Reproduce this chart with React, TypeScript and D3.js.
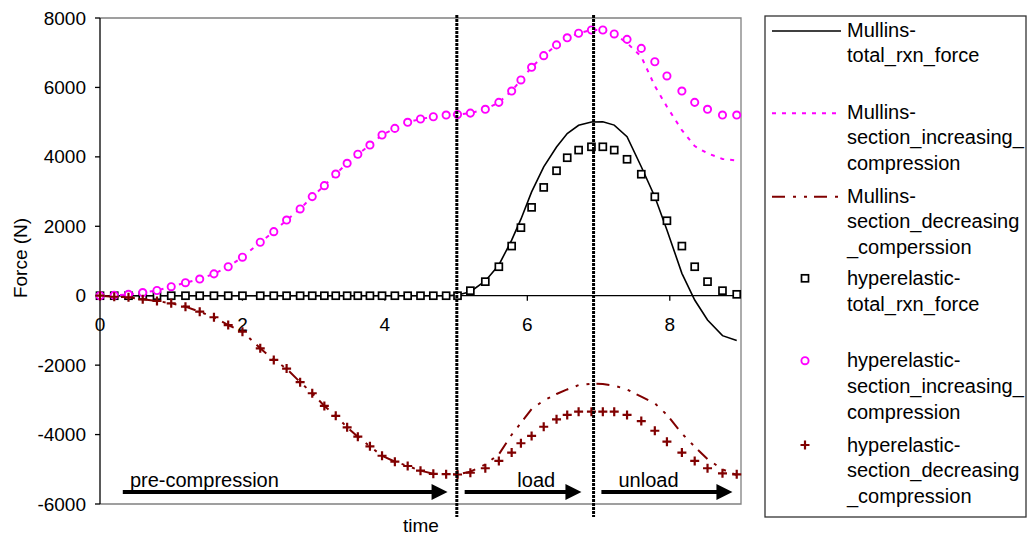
import React from 'react';
import * as d3 from 'd3';

// time steps (s) shared by every series
const time = [
  0, 0.2, 0.4, 0.6, 0.8, 1.0, 1.2, 1.4, 1.6, 1.8, 2.0, 2.25, 2.44, 2.62, 2.81, 2.98, 3.15, 3.31, 3.47, 3.62,
  3.79, 3.96, 4.14, 4.32, 4.5, 4.68, 4.86, 5.02, 5.2, 5.41, 5.6, 5.78, 5.91, 6.06, 6.23, 6.41, 6.56, 6.72,
  6.9, 7.06, 7.22, 7.4, 7.6, 7.79, 7.96, 8.17, 8.35, 8.53, 8.74, 8.94,
];

const mullinsTotal = [
  0, 0, 0, 0, 0, 0, 0, 0, 0, 0, 0, 0, 0, 0, 0, 0, 0, 0, 0, 0,
  0, 0, 0, 0, 0, 0, 0, 20, 115, 425, 885, 1600, 2205, 2990, 3710, 4285, 4670, 4910,
  5005, 5010, 4915, 4580, 3715, 2850, 1895, 645, -125, -700, -1150, -1290,
];

const mullinsInc = [
  0, 10, 40, 90, 150, 260, 375, 480, 630, 835, 1110, 1540, 1845, 2180, 2500, 2855, 3170, 3505, 3815, 4075,
  4340, 4630, 4820, 4995, 5090, 5155, 5205, 5220, 5260, 5370, 5570, 5895, 6215, 6580, 6915, 7225, 7430, 7560,
  7655, 7650, 7540, 7280, 6885, 6040, 5445, 4770, 4310, 4100, 3940, 3895,
];

const mullinsDec = [
  0, -30, -45, -105, -150, -220, -315, -460, -620, -845, -1035, -1515, -1850, -2100, -2490, -2810, -3175, -3460, -3790, -4060,
  -4340, -4610, -4780, -4905, -5040, -5130, -5140, -5150, -5070, -4860, -4570, -4005, -3665, -3265, -3020, -2830, -2700, -2575,
  -2535, -2545, -2590, -2700, -2910, -3100, -3430, -3970, -4350, -4705, -5005, -5165,
];

const hyperTotal = [
  0, 0, 0, 0, 0, 0, 0, 0, 0, 0, 0, 0, 0, 0, 0, 0, 0, 0, 0, 0,
  0, 0, 0, 0, 0, 0, 0, 0, 145, 405, 835, 1430, 1960, 2545, 3120, 3600, 3975, 4195,
  4290, 4290, 4195, 3930, 3500, 2850, 2160, 1430, 835, 405, 145, 40,
];

const hyperInc = [
  0, 10, 40, 90, 150, 260, 375, 480, 630, 835, 1110, 1540, 1845, 2180, 2500, 2855, 3170, 3505, 3815, 4075,
  4340, 4630, 4820, 4995, 5090, 5155, 5205, 5220, 5260, 5370, 5570, 5895, 6215, 6580, 6915, 7225, 7430, 7560,
  7655, 7655, 7540, 7385, 7125, 6740, 6330, 5895, 5570, 5370, 5205, 5205,
];

const hyperDec = [
  0, -30, -45, -105, -150, -220, -315, -460, -620, -845, -1035, -1515, -1850, -2100, -2490, -2810, -3175, -3460, -3790, -4060,
  -4340, -4610, -4780, -4905, -5040, -5130, -5140, -5150, -5100, -4970, -4760, -4520, -4250, -4040, -3775, -3560, -3435, -3340,
  -3340, -3340, -3340, -3435, -3610, -3890, -4205, -4520, -4760, -4970, -5115, -5145,
];

const xTicks = [0, 2, 4, 6, 8];
const yTicks = [-6000, -4000, -2000, 0, 2000, 4000, 6000, 8000];

// phase annotations (time units)
const phaseLabels = ['pre-compression', 'load', 'unload'];
const phaseLabelAt = [0.42, 5.86, 7.28];
const phaseArrowFrom = [0.32, 5.12, 7.04];
const phaseArrowTo = [4.88, 6.76, 8.88];
const phaseBounds = [5.01, 6.93];

const legendLabels = [
  ['Mullins-', 'total_rxn_force'],
  ['Mullins-', 'section_increasing_', 'compression'],
  ['Mullins-', 'section_decreasing', '_comperssion'],
  ['hyperelastic-', 'total_rxn_force'],
  ['hyperelastic-', 'section_increasing_', 'compression'],
  ['hyperelastic-', 'section_decreasing', '_compression'],
];

const FONT = '"Liberation Sans", Arial, sans-serif';
const MAGENTA = '#ff00ff';
const DARKRED = '#800000';

const W = 1028;
const H = 537;
const plot = { left: 100, right: 741, top: 18, bottom: 504 };

const Square = ({ x, y }: { x: number; y: number }) => (
  <rect x={x - 3.5} y={y - 3.5} width={7} height={7} fill="white" stroke="black" strokeWidth={1.7} />
);
const Circle = ({ x, y }: { x: number; y: number }) => (
  <circle cx={x} cy={y} r={3.6} fill="white" stroke={MAGENTA} strokeWidth={1.9} />
);
const Plus = ({ x, y }: { x: number; y: number }) => (
  <path d={`M${x - 4.5},${y}H${x + 4.5}M${x},${y - 4.5}V${y + 4.5}`} stroke={DARKRED} strokeWidth={2.2} />
);

export default function App() {
  const x = d3.scaleLinear().domain([0, 9]).range([plot.left, plot.right]);
  const y = d3.scaleLinear().domain([-6000, 8000]).range([plot.bottom, plot.top]);

  const line = (vals: number[]) =>
    d3
      .line<number>()
      .x((_, i) => x(time[i]))
      .y((d) => y(d))(vals) as string;

  const arrowY = y(-5655);
  const labelY = y(-5510);

  // legend layout
  const lgX = 765;
  const sampleX0 = 772;
  const sampleX1 = 841;
  const textX = 847;
  const lineGap = 25.7;
  const entryTop = [36.5, 118.5, 202.7, 285, 367.3, 451.7];
  const symbolY = [31, 113.3, 196.7, 278.3, 360.7, 445];

  return (
    <div>
      <style>{'body{margin:0}'}</style>
      <svg width={W} height={H} style={{ display: 'block', background: 'white' }} fontFamily={FONT}>
        {/* plot area frame */}
        <path
          d={`M${plot.left},${plot.top}H${plot.right}V${plot.bottom}H${plot.left}`}
          fill="none"
          stroke="#808080"
          strokeWidth={1.3}
        />
        {/* y axis */}
        <line x1={plot.left} x2={plot.left} y1={plot.top} y2={plot.bottom} stroke="black" strokeWidth={1.3} />
        {yTicks.map((t) => (
          <g key={t}>
            <line x1={plot.left - 5} x2={plot.left} y1={y(t)} y2={y(t)} stroke="black" strokeWidth={1.3} />
            <text x={86} y={y(t) + 6.5} fontSize={19} textAnchor="end" fill="black">
              {t}
            </text>
          </g>
        ))}
        {/* x axis at zero */}
        <line x1={plot.left} x2={plot.right} y1={y(0)} y2={y(0)} stroke="black" strokeWidth={1.3} />
        {xTicks.map((t) => (
          <g key={t}>
            <line x1={x(t)} x2={x(t)} y1={y(0)} y2={y(0) + 5} stroke="black" strokeWidth={1.3} />
            <text x={x(t)} y={y(0) + 35} fontSize={19} textAnchor="middle" fill="black">
              {t}
            </text>
          </g>
        ))}
        <text transform={`translate(27,258) rotate(-90)`} fontSize={19} textAnchor="middle" fill="black">
          Force (N)
        </text>
        <text x={421} y={532} fontSize={19} textAnchor="middle" fill="black">
          time
        </text>

        {/* series lines */}
        <path d={line(mullinsTotal)} fill="none" stroke="black" strokeWidth={1.6} />
        <path d={line(mullinsInc)} fill="none" stroke={MAGENTA} strokeWidth={2} strokeDasharray="4 6" />
        <path d={line(mullinsDec)} fill="none" stroke={DARKRED} strokeWidth={2} strokeDasharray="13 8 3 8 3 7" />

        {/* series markers */}
        {hyperTotal.map((v, i) => (
          <Square key={`s${i}`} x={x(time[i])} y={y(v)} />
        ))}
        {hyperInc.map((v, i) => (
          <Circle key={`c${i}`} x={x(time[i])} y={y(v)} />
        ))}
        {hyperDec.map((v, i) => (
          <Plus key={`p${i}`} x={x(time[i])} y={y(v)} />
        ))}

        {/* phase boundaries */}
        {phaseBounds.map((t) => (
          <line key={t} x1={x(t)} x2={x(t)} y1={15} y2={517} stroke="black" strokeWidth={3} strokeDasharray="3 1" />
        ))}

        {/* phase arrows */}
        {phaseLabels.map((lab, i) => {
          const x0 = x(phaseArrowFrom[i]);
          const x1 = x(phaseArrowTo[i]);
          return (
            <g key={lab}>
              <line x1={x0} x2={x1 - 12} y1={arrowY} y2={arrowY} stroke="black" strokeWidth={4} />
              <path d={`M${x1},${arrowY}L${x1 - 16},${arrowY - 8}L${x1 - 16},${arrowY + 8}Z`} fill="black" />
              <text x={x(phaseLabelAt[i])} y={labelY} fontSize={20} fill="black">
                {lab}
              </text>
            </g>
          );
        })}

        {/* legend */}
        <rect x={lgX} y={16} width={261} height={501} fill="white" stroke="#333" strokeWidth={1.3} />
        <line x1={sampleX0} x2={sampleX1} y1={symbolY[0]} y2={symbolY[0]} stroke="black" strokeWidth={1.6} />
        <line x1={sampleX0} x2={sampleX1} y1={symbolY[1]} y2={symbolY[1]} stroke={MAGENTA} strokeWidth={2} strokeDasharray="4 6" />
        <line
          x1={sampleX0}
          x2={sampleX1}
          y1={symbolY[2]}
          y2={symbolY[2]}
          stroke={DARKRED}
          strokeWidth={2}
          strokeDasharray="13 8 3 8 3 7"
        />
        <Square x={805} y={symbolY[3]} />
        <Circle x={805} y={symbolY[4]} />
        <Plus x={805} y={symbolY[5]} />
        {legendLabels.map((lines, i) => (
          <text key={i} fontSize={20} fill="black">
            {lines.map((l, j) => (
              <tspan key={j} x={textX} y={entryTop[i] + j * lineGap}>
                {l}
              </tspan>
            ))}
          </text>
        ))}
      </svg>
    </div>
  );
}
